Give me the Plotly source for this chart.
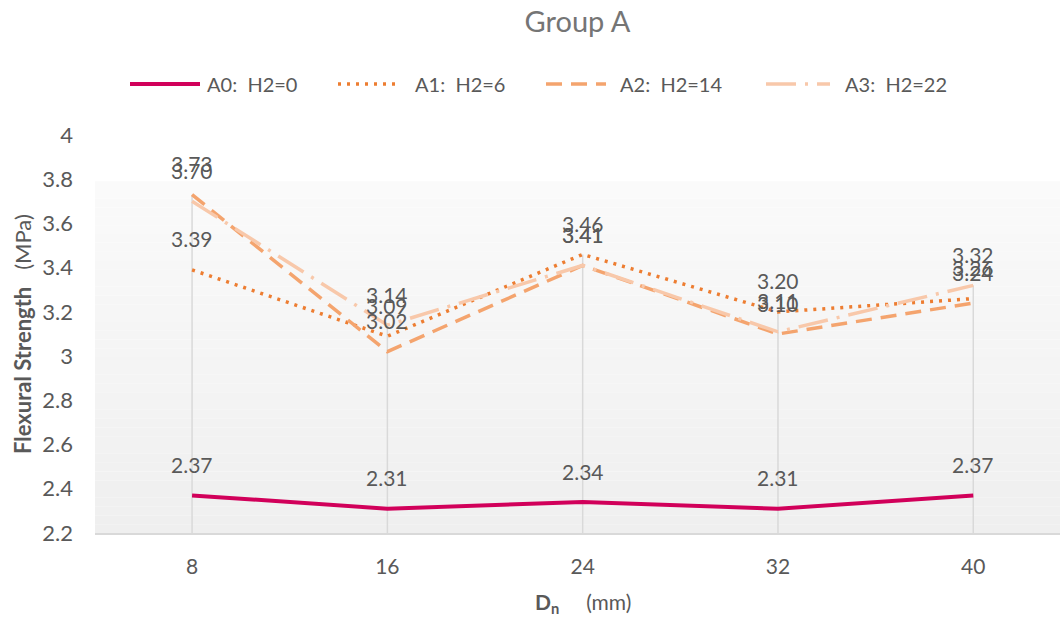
import plotly.graph_objects as go

# ---- data -------------------------------------------------------------
dn_values = [8, 16, 24, 32, 40]                      # Dn (mm)
a0_values = [2.37, 2.31, 2.34, 2.31, 2.37]           # H2 = 0
a1_values = [3.39, 3.09, 3.46, 3.20, 3.26]           # H2 = 6
a2_values = [3.73, 3.02, 3.41, 3.10, 3.24]           # H2 = 14
a3_values = [3.70, 3.14, 3.41, 3.11, 3.32]           # H2 = 22
series_names = ["A0:\u00a0\u00a0H2=0", "A1:\u00a0\u00a0H2=6",
                "A2:\u00a0\u00a0H2=14", "A3:\u00a0\u00a0H2=22"]
y_tick_values = [2.2, 2.4, 2.6, 2.8, 3.0, 3.2, 3.4, 3.6, 3.8, 4.0]

# ---- styling ----------------------------------------------------------
W, H = 1060, 618
ML, MR, MT, MB = 95, 0, 135, 85
PW, PH = W - ML - MR, H - MT - MB
FONT = "Lato"
TXT = "#595959"

series = [a0_values, a1_values, a2_values, a3_values]
colors = ["#D1005A", "#ED7D31", "#F4A46E", "#F8C8AA"]
widths = [4, 3.5, 3.5, 3.5]
dashes = ["solid", "3px,6px", "16px,9px", "30px,9px,3px,9px"]

step = dn_values[1] - dn_values[0]
x_range = [dn_values[0] - 0.497 * step, dn_values[0] + 4.444 * step]


def px_x(px):
    return (px - ML) / PW


def px_y(py):
    return (H - MB - py) / PH


fig = go.Figure()

# series lines
for vals, name, c, w, d in zip(series, series_names, colors, widths, dashes):
    fig.add_trace(go.Scatter(
        x=dn_values, y=vals, name=name, mode="lines",
        line=dict(color=c, width=w, dash=d),
        showlegend=False, hoverinfo="x+y",
    ))

shapes = []

# soft vertical gradient behind the plot area
n_strips = 40
top_frac = 0.884
for i in range(n_strips):
    t = i / (n_strips - 1)
    g = round(239 + (250 - 239) * t)
    shapes.append(dict(
        type="rect", xref="x domain", yref="y domain",
        x0=0, x1=1,
        y0=top_frac * i / n_strips, y1=top_frac * (i + 1) / n_strips,
        fillcolor=f"rgb({g},{g},{g})", line=dict(width=0), layer="below",
    ))

# drop lines from the highest value at each Dn down to the axis
for k, xv in enumerate(dn_values):
    top = max(s[k] for s in series)
    shapes.append(dict(
        type="line", xref="x", yref="y", x0=xv, x1=xv,
        y0=y_tick_values[0], y1=top,
        line=dict(color="#D9D9D9", width=1.5), layer="below",
    ))

# legend (drawn line samples + labels)
legend_y = 84
legend_items = [(130, 200, 205), (338, 398, 413), (546, 606, 618), (766, 830, 843)]
annotations = []
for (x0, x1, xt), name, c, w, d in zip(legend_items, series_names, colors, widths, dashes):
    shapes.append(dict(
        type="line", xref="paper", yref="paper",
        x0=px_x(x0), x1=px_x(x1), y0=px_y(legend_y), y1=px_y(legend_y),
        line=dict(color=c, width=w, dash=d),
    ))
    annotations.append(dict(
        xref="paper", yref="paper", x=px_x(xt), y=px_y(legend_y),
        xanchor="left", yanchor="middle", text=name, showarrow=False,
        font=dict(family=FONT, size=20, color=TXT),
    ))

# data labels above each point
for vals in series:
    for xv, v in zip(dn_values, vals):
        annotations.append(dict(
            x=xv, y=v, xref="x", yref="y", text=f"{v:.2f}",
            showarrow=False, yshift=31, yanchor="middle",
            font=dict(family=FONT, size=21, color=TXT),
        ))

# axis titles
annotations.append(dict(
    xref="paper", yref="paper", x=px_x(22), y=0.5,
    text="<b>Flexural Strength</b>\u00a0\u00a0\u00a0(MPa)", textangle=-90,
    showarrow=False, xanchor="center", yanchor="middle",
    font=dict(family=FONT, size=22, color=TXT),
))
annotations.append(dict(
    xref="paper", yref="paper", x=px_x(583), y=px_y(603),
    text="<b>D<sub>n</sub></b>\u00a0\u00a0\u00a0\u00a0\u00a0(mm)",
    showarrow=False, xanchor="center", yanchor="middle",
    font=dict(family=FONT, size=21, color=TXT),
))

fig.update_layout(
    width=W, height=H,
    margin=dict(l=ML, r=MR, t=MT, b=MB),
    paper_bgcolor="white", plot_bgcolor="rgba(0,0,0,0)",
    title=dict(text="Group A", x=0.5, xref="paper", xanchor="center",
               y=1 - 22 / H, yanchor="middle",
               font=dict(family=FONT, size=29, color="#757575")),
    showlegend=False,
    shapes=shapes,
    annotations=annotations,
    xaxis=dict(
        range=x_range, tickvals=dn_values, showgrid=False, zeroline=False,
        showline=True, linecolor="#D9D9D9", linewidth=1.5,
        ticks="", ticklabelstandoff=14,
        tickfont=dict(family=FONT, size=21, color=TXT),
    ),
    yaxis=dict(
        range=[2.2, 4.0], tickvals=y_tick_values,
        showgrid=False, zeroline=False, showline=False,
        ticks="", ticklabelstandoff=21,
        tickfont=dict(family=FONT, size=22, color=TXT),
    ),
)

fig.write_html("out.html")
